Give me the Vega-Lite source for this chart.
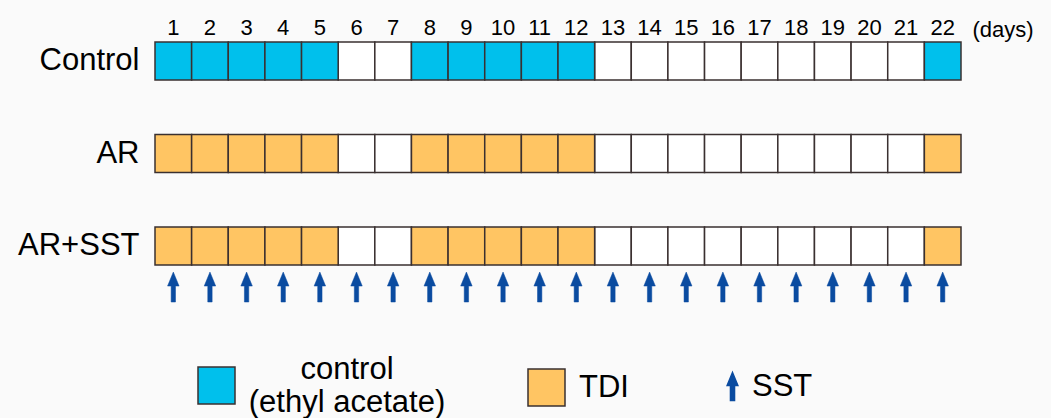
{
  "$schema": "https://vega.github.io/schema/vega-lite/v6.json",
  "width": 806,
  "height": 223,
  "autosize": {"type": "none"},
  "padding": {"left": 155, "top": 42, "right": 90, "bottom": 153},
  "background": "#fafafa",
  "config": {
    "font": "Liberation Sans",
    "view": {"stroke": null},
    "style": {"guide-label": {"lineHeight": 33}},
    "legend": {
      "title": null, "orient": "none", "direction": "horizontal",
      "symbolSize": 1369, "symbolStrokeWidth": 1.5, "symbolStrokeColor": "#3a3030",
      "labelFontSize": 31, "labelColor": "#000", "labelLimit": 400, "padding": 0
    }
  },
  "datasets": {
    "cells": [
      {"group":"Control","day":1,"treatment":"control"},{"group":"Control","day":2,"treatment":"control"},{"group":"Control","day":3,"treatment":"control"},{"group":"Control","day":4,"treatment":"control"},{"group":"Control","day":5,"treatment":"control"},{"group":"Control","day":6,"treatment":"none"},{"group":"Control","day":7,"treatment":"none"},{"group":"Control","day":8,"treatment":"control"},{"group":"Control","day":9,"treatment":"control"},{"group":"Control","day":10,"treatment":"control"},{"group":"Control","day":11,"treatment":"control"},{"group":"Control","day":12,"treatment":"control"},{"group":"Control","day":13,"treatment":"none"},{"group":"Control","day":14,"treatment":"none"},{"group":"Control","day":15,"treatment":"none"},{"group":"Control","day":16,"treatment":"none"},{"group":"Control","day":17,"treatment":"none"},{"group":"Control","day":18,"treatment":"none"},{"group":"Control","day":19,"treatment":"none"},{"group":"Control","day":20,"treatment":"none"},{"group":"Control","day":21,"treatment":"none"},{"group":"Control","day":22,"treatment":"control"},
      {"group":"AR","day":1,"treatment":"TDI"},{"group":"AR","day":2,"treatment":"TDI"},{"group":"AR","day":3,"treatment":"TDI"},{"group":"AR","day":4,"treatment":"TDI"},{"group":"AR","day":5,"treatment":"TDI"},{"group":"AR","day":6,"treatment":"none"},{"group":"AR","day":7,"treatment":"none"},{"group":"AR","day":8,"treatment":"TDI"},{"group":"AR","day":9,"treatment":"TDI"},{"group":"AR","day":10,"treatment":"TDI"},{"group":"AR","day":11,"treatment":"TDI"},{"group":"AR","day":12,"treatment":"TDI"},{"group":"AR","day":13,"treatment":"none"},{"group":"AR","day":14,"treatment":"none"},{"group":"AR","day":15,"treatment":"none"},{"group":"AR","day":16,"treatment":"none"},{"group":"AR","day":17,"treatment":"none"},{"group":"AR","day":18,"treatment":"none"},{"group":"AR","day":19,"treatment":"none"},{"group":"AR","day":20,"treatment":"none"},{"group":"AR","day":21,"treatment":"none"},{"group":"AR","day":22,"treatment":"TDI"},
      {"group":"AR+SST","day":1,"treatment":"TDI"},{"group":"AR+SST","day":2,"treatment":"TDI"},{"group":"AR+SST","day":3,"treatment":"TDI"},{"group":"AR+SST","day":4,"treatment":"TDI"},{"group":"AR+SST","day":5,"treatment":"TDI"},{"group":"AR+SST","day":6,"treatment":"none"},{"group":"AR+SST","day":7,"treatment":"none"},{"group":"AR+SST","day":8,"treatment":"TDI"},{"group":"AR+SST","day":9,"treatment":"TDI"},{"group":"AR+SST","day":10,"treatment":"TDI"},{"group":"AR+SST","day":11,"treatment":"TDI"},{"group":"AR+SST","day":12,"treatment":"TDI"},{"group":"AR+SST","day":13,"treatment":"none"},{"group":"AR+SST","day":14,"treatment":"none"},{"group":"AR+SST","day":15,"treatment":"none"},{"group":"AR+SST","day":16,"treatment":"none"},{"group":"AR+SST","day":17,"treatment":"none"},{"group":"AR+SST","day":18,"treatment":"none"},{"group":"AR+SST","day":19,"treatment":"none"},{"group":"AR+SST","day":20,"treatment":"none"},{"group":"AR+SST","day":21,"treatment":"none"},{"group":"AR+SST","day":22,"treatment":"TDI"}
    ],
    "sst": [
      {"group":"AR+SST","day":1,"treatment":"SST"},{"group":"AR+SST","day":2,"treatment":"SST"},{"group":"AR+SST","day":3,"treatment":"SST"},{"group":"AR+SST","day":4,"treatment":"SST"},{"group":"AR+SST","day":5,"treatment":"SST"},{"group":"AR+SST","day":6,"treatment":"SST"},{"group":"AR+SST","day":7,"treatment":"SST"},{"group":"AR+SST","day":8,"treatment":"SST"},{"group":"AR+SST","day":9,"treatment":"SST"},{"group":"AR+SST","day":10,"treatment":"SST"},{"group":"AR+SST","day":11,"treatment":"SST"},{"group":"AR+SST","day":12,"treatment":"SST"},{"group":"AR+SST","day":13,"treatment":"SST"},{"group":"AR+SST","day":14,"treatment":"SST"},{"group":"AR+SST","day":15,"treatment":"SST"},{"group":"AR+SST","day":16,"treatment":"SST"},{"group":"AR+SST","day":17,"treatment":"SST"},{"group":"AR+SST","day":18,"treatment":"SST"},{"group":"AR+SST","day":19,"treatment":"SST"},{"group":"AR+SST","day":20,"treatment":"SST"},{"group":"AR+SST","day":21,"treatment":"SST"},{"group":"AR+SST","day":22,"treatment":"SST"}
    ]
  },
  "encoding": {
    "x": {
      "field": "day", "type": "ordinal",
      "scale": {"domain": [1,2,3,4,5,6,7,8,9,10,11,12,13,14,15,16,17,18,19,20,21,22], "paddingInner": 0, "paddingOuter": 0},
      "axis": {
        "orient": "top", "title": "(days)", "titleX": 817, "titleY": -6, "titleAlign": "left",
        "titleBaseline": "alphabetic", "titleFontSize": 22, "titleFontWeight": "normal", "titleColor": "#000",
        "labelFontSize": 22, "labelColor": "#000", "labelAngle": 0, "labelPadding": 3,
        "ticks": false, "domain": false, "grid": false
      }
    },
    "y": {
      "field": "group", "type": "nominal",
      "scale": {"domain": ["Control", "AR", "AR+SST"], "paddingInner": 0.59, "paddingOuter": 0},
      "axis": {
        "title": null, "labelFontSize": 31, "labelColor": "#000", "labelPadding": 16,
        "ticks": false, "domain": false, "grid": false
      }
    }
  },
  "resolve": {"scale": {"fill": "independent", "shape": "independent", "stroke": "independent"}, "legend": {"fill": "independent", "shape": "independent", "stroke": "independent"}},
  "layer": [
    {
      "data": {"name": "cells"},
      "transform": [{"filter": "datum.treatment === 'none'"}],
      "mark": {"type": "rect", "fill": "#ffffff", "stroke": "#3a3030", "strokeWidth": 1.5}
    },
    {
      "data": {"name": "cells"},
      "transform": [{"filter": "datum.treatment === 'control'"}],
      "mark": {"type": "rect", "stroke": "#3a3030", "strokeWidth": 1.5},
      "encoding": {
        "fill": {
          "field": "treatment", "type": "nominal",
          "scale": {"domain": ["control"], "range": ["#00c0ec"]},
          "legend": {
            "legendX": 42, "legendY": 324, "labelOffset": 111, "labelAlign": "center", "labelBaseline": "bottom",
            "labelExpr": "['control', '(ethyl acetate)']"
          }
        }
      }
    },
    {
      "data": {"name": "cells"},
      "transform": [{"filter": "datum.treatment === 'TDI'"}],
      "mark": {"type": "rect", "stroke": "#3a3030", "strokeWidth": 1.5},
      "encoding": {
        "fill": {
          "field": "treatment", "type": "nominal",
          "scale": {"domain": ["TDI"], "range": ["#ffc563"]},
          "legend": {"legendX": 372, "legendY": 326, "labelOffset": 13}
        }
      }
    },
    {
      "data": {"name": "sst"},
      "mark": {"type": "point", "filled": true, "opacity": 1, "size": 1570, "strokeWidth": 0.5, "yOffset": 41},
      "encoding": {
        "fill": {
          "field": "treatment", "type": "nominal",
          "scale": {"domain": ["SST"], "range": ["#0a4ba0"]},
          "legend": {"legendX": 558, "legendY": 325, "labelOffset": 0}
        },
        "shape": {
          "field": "treatment", "type": "nominal",
          "scale": {"domain": ["SST"], "range": ["M0,-0.757 L0.29,-0.05 L0.11,-0.05 L0.11,0.757 L-0.11,0.757 L-0.11,-0.05 L-0.29,-0.05 Z"]},
          "legend": {"legendX": 558, "legendY": 325, "labelOffset": 0}
        },
        "stroke": {
          "field": "treatment", "type": "nominal",
          "scale": {"domain": ["SST"], "range": ["#0a4ba0"]},
          "legend": {"legendX": 558, "legendY": 325, "labelOffset": 0}
        }
      }
    }
  ]
}
